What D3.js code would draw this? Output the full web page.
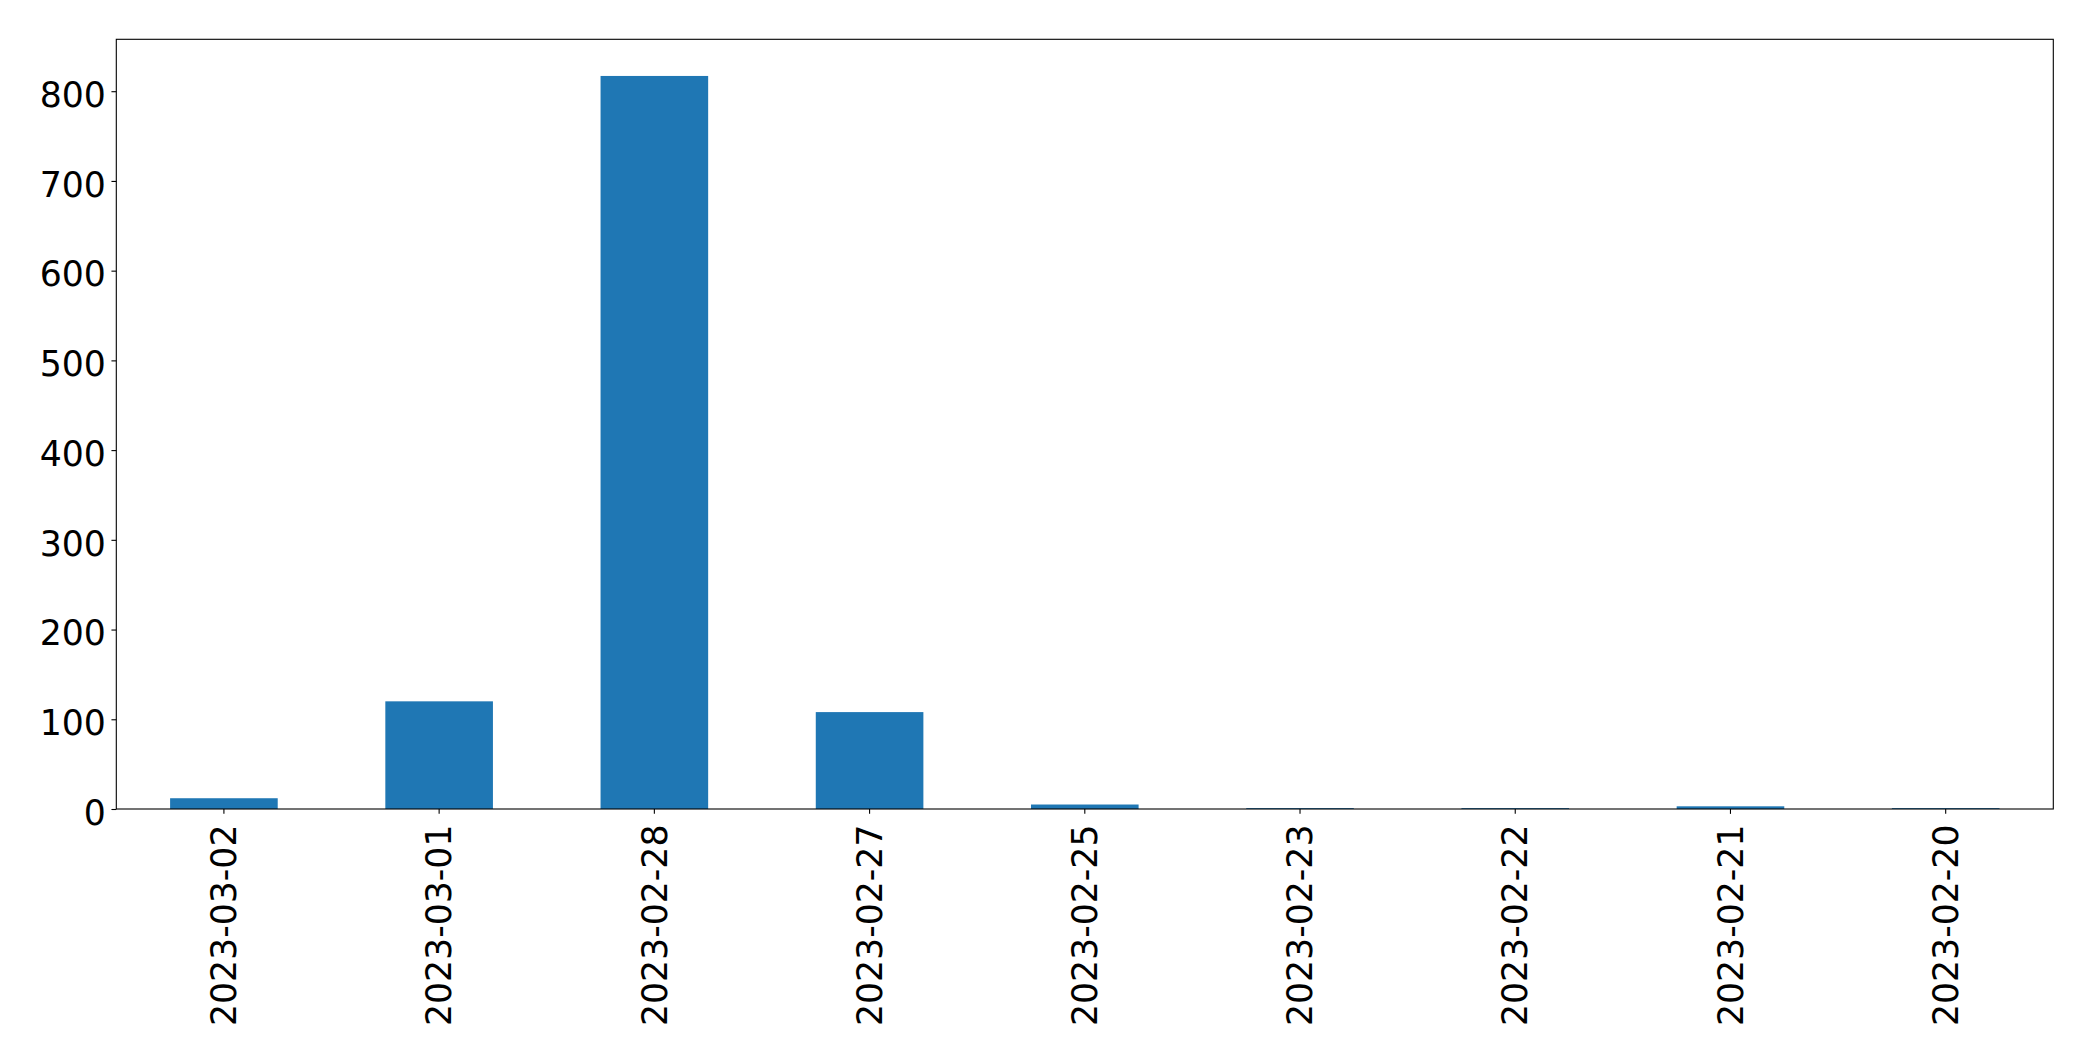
<!DOCTYPE html>
<html>
<head>
<meta charset="utf-8">
<script src="https://cdn.jsdelivr.net/npm/d3@7"></script>
<style>
  html, body { margin: 0; padding: 0; background: #ffffff; }
  svg { display: block; }
</style>
</head>
<body>
<div id="chart"></div>
<script>
// ---- data ----
const categories = ["2023-03-02", "2023-03-01", "2023-02-28", "2023-02-27", "2023-02-25", "2023-02-23", "2023-02-22", "2023-02-21", "2023-02-20"];
const counts = [12, 120, 817, 108, 5, 1, 1, 3, 1];
const yTickValues = [0, 100, 200, 300, 400, 500, 600, 700, 800];

// ---- layout ----
const width = 2093, height = 1061;
const margin = { top: 39.3, right: 39.7, bottom: 252, left: 116.3 };
const innerW = width - margin.left - margin.right;
const innerH = height - margin.top - margin.bottom;
const fontSize = 34.7;
const fontFamily = "'DejaVu Sans', sans-serif";
const tickLen = 4.86;

const svg = d3.select("#chart").append("svg")
  .attr("width", width).attr("height", height)
  .style("font-family", fontFamily);

svg.append("rect").attr("width", width).attr("height", height).attr("fill", "#ffffff");

const g = svg.append("g").attr("transform", `translate(${margin.left},${margin.top})`);

const x = d3.scaleBand().domain(categories).range([0, innerW])
  .paddingInner(0.5).paddingOuter(0.25);
const y = d3.scaleLinear().domain([0, d3.max(counts) * 1.05]).range([innerH, 0]);

const data = categories.map((c, i) => ({ c, v: counts[i] }));

g.selectAll("rect.bar").data(data).enter().append("rect")
  .attr("class", "bar")
  .attr("x", d => x(d.c))
  .attr("width", x.bandwidth())
  .attr("y", d => y(d.v))
  .attr("height", d => y(0) - y(d.v))
  .attr("fill", "#1f77b4");

// y axis
const yAxis = g.append("g")
  .call(d3.axisLeft(y).tickValues(yTickValues).tickFormat(d3.format("d"))
    .tickSize(tickLen).tickPadding(5.6));
yAxis.attr("font-family", null).attr("font-size", null);
yAxis.select(".domain").remove();
yAxis.selectAll(".tick line").attr("stroke", "#000").attr("stroke-width", 1.1);
yAxis.selectAll(".tick text")
  .attr("fill", "#000")
  .style("font-family", fontFamily)
  .style("font-size", fontSize + "px")
  .attr("dy", "0.44em");

// x axis
const xAxis = g.append("g").attr("transform", `translate(0,${innerH})`)
  .call(d3.axisBottom(x).tickSize(tickLen));
xAxis.attr("font-family", null).attr("font-size", null);
xAxis.select(".domain").remove();
xAxis.selectAll(".tick line").attr("stroke", "#000").attr("stroke-width", 1.1);
xAxis.selectAll(".tick text")
  .attr("fill", "#000")
  .style("font-family", fontFamily)
  .style("font-size", fontSize + "px")
  .attr("transform", "rotate(-90)")
  .attr("x", -15.5)
  .attr("y", 0)
  .attr("dy", "0.35em")
  .style("text-anchor", "end");

// frame
g.append("rect")
  .attr("x", 0).attr("y", 0)
  .attr("width", innerW).attr("height", innerH)
  .attr("fill", "none").attr("stroke", "#000").attr("stroke-width", 1.1);
</script>
</body>
</html>
